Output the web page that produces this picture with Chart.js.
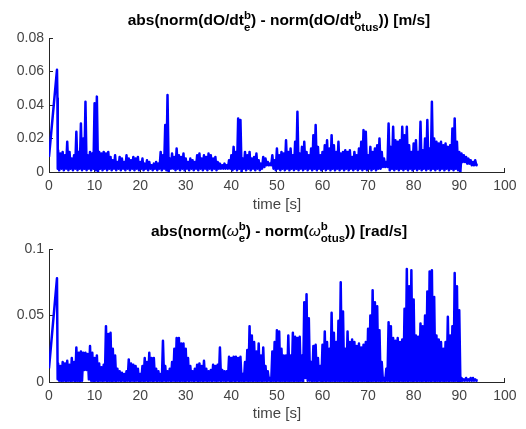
<!DOCTYPE html>
<html><head><meta charset="utf-8">
<script src="https://cdn.jsdelivr.net/npm/chart.js@4/dist/chart.umd.min.js"></script>
<style>
html,body{margin:0;padding:0;background:#fff;}
#wrap{position:relative;width:526px;height:429px;overflow:hidden;font-family:"Liberation Sans",Arial,Helvetica,sans-serif;}
canvas{position:absolute;left:0;}
.ttl{position:absolute;left:49px;width:460px;text-align:center;font-weight:bold;font-size:15.5px;line-height:18px;color:#000;white-space:nowrap;}
.ss{display:inline-block;vertical-align:-6px;font-size:11.5px;line-height:11.5px;text-align:left;}
.ss span{display:block;}
.w{font-weight:normal;font-style:italic;}
</style></head>
<body><div id="wrap">
<canvas id="c1" width="526" height="215" style="top:0"></canvas>
<canvas id="c2" width="526" height="214" style="top:215px"></canvas>
<div class="ttl" style="top:10px">abs(norm(dO/dt<span class="ss"><span>b</span><span>e</span></span>) - norm(dO/dt<span class="ss"><span>b</span><span>otus</span></span>)) [m/s]</div>
<div class="ttl" style="top:221px">abs(norm(<span class="w">ω</span><span class="ss"><span>b</span><span>e</span></span>) - norm(<span class="w">ω</span><span class="ss"><span>b</span><span>otus</span></span>)) [rad/s]</div>
</div>
<script>
// ---- data ----
const xTicks = [0,10,20,30,40,50,60,70,80,90,100];
const topYTicks = [0,0.02,0.04,0.06,0.08];
const botYTicks = [0,0.05,0.1];
const sampleStart = 2.0;   // first sample time of the peaks/troughs arrays [s]
const sampleStep = 0.5;    // sample spacing [s]

// upper plot: |dO/dt| difference [m/s]
const topStartTimes  = [0, 1.75, 1.85, 1.92];
const topStartValues = [0.009, 0.061, 0.044, 0.002];
const topPeaks = [
 0.013,0.011,0.012,0.010,0.018,0.012,0.008,0.010,0.024,0.012,
 0.029,0.020,0.042,0.010,0.012,0.011,0.041,0.045,0.012,0.011,
 0.012,0.011,0.012,0.009,0.007,0.010,0.006,0.009,0.008,0.006,
 0.010,0.008,0.007,0.009,0.008,0.009,0.006,0.008,0.005,0.007,
 0.006,0.004,0.005,0.006,0.005,0.012,0.010,0.028,0.046,0.008,
 0.011,0.009,0.014,0.010,0.009,0.011,0.008,0.006,0.008,0.007,
 0.006,0.010,0.011,0.008,0.010,0.009,0.011,0.010,0.008,0.009,
 0.006,0.005,0.004,0.005,0.004,0.007,0.010,0.015,0.012,0.032,
 0.031,0.008,0.012,0.010,0.012,0.008,0.009,0.011,0.007,0.005,
 0.009,0.008,0.006,0.005,0.010,0.007,0.014,0.010,0.012,0.011,
 0.019,0.012,0.014,0.010,0.018,0.036,0.011,0.015,0.018,0.012,
 0.010,0.014,0.022,0.028,0.015,0.010,0.012,0.016,0.019,0.014,
 0.022,0.016,0.012,0.018,0.011,0.012,0.013,0.012,0.013,0.009,
 0.012,0.010,0.014,0.018,0.025,0.024,0.010,0.015,0.012,0.014,
 0.016,0.020,0.012,0.008,0.006,0.029,0.015,0.027,0.019,0.018,
 0.019,0.027,0.022,0.027,0.016,0.012,0.017,0.019,0.012,0.030,
 0.013,0.020,0.031,0.014,0.042,0.020,0.018,0.017,0.018,0.016,
 0.017,0.015,0.016,0.026,0.032,0.018,0.012,0.011,0.010,0.009,0.008,0.007,0.006,0.007
];
const topTroughs = [
 0.001,0.002,0.001,0.002,0.001,0.002,0.001,0.002,0.001,0.002,
 0.001,0.002,0.001,0.002,0.001,0.002,0.001,0.000,0.002,0.001,
 0.002,0.001,0.002,0.001,0.002,0.001,0.002,0.001,0.002,0.001,
 0.002,0.001,0.002,0.001,0.002,0.001,0.002,0.001,0.002,0.001,
 0.002,0.001,0.002,0.001,0.002,0.001,0.002,0.001,0.000,0.002,
 0.002,0.001,0.002,0.001,0.002,0.001,0.002,0.001,0.002,0.001,
 0.002,0.001,0.002,0.001,0.002,0.001,0.002,0.001,0.002,0.001,
 0.002,0.002,0.002,0.002,0.002,0.002,0.001,0.002,0.001,0.002,
 0.000,0.002,0.001,0.002,0.001,0.002,0.001,0.002,0.001,0.002,
 0.003,0.004,0.004,0.004,0.002,0.001,0.002,0.001,0.002,0.001,
 0.002,0.001,0.002,0.001,0.002,0.001,0.002,0.001,0.002,0.001,
 0.002,0.001,0.002,0.001,0.002,0.001,0.002,0.001,0.002,0.001,
 0.002,0.001,0.002,0.001,0.002,0.001,0.002,0.001,0.002,0.001,
 0.002,0.001,0.002,0.001,0.002,0.001,0.002,0.001,0.002,0.001,
 0.002,0.002,0.003,0.003,0.003,0.001,0.002,0.001,0.002,0.001,
 0.002,0.001,0.002,0.001,0.002,0.001,0.002,0.001,0.002,0.001,
 0.002,0.001,0.002,0.001,0.002,0.001,0.002,0.001,0.002,0.001,
 0.002,0.001,0.002,0.001,0.002,0.001,0.000,0.006,0.006,0.005,0.005,0.004,0.004,0.004
];
const topEndTime = 93.8, topEndValue = 0.005;

// lower plot: |omega| difference [rad/s]
const botStartTimes  = [0, 1.75, 1.9];
const botStartValues = [0.0103, 0.078, 0.002];
const botPeaks = [
 0.014,0.012,0.015,0.014,0.016,0.013,0.018,0.015,0.026,0.022,
 0.023,0.022,0.022,0.021,0.027,0.022,0.018,0.020,0.014,0.011,
 0.013,0.042,0.036,0.037,0.025,0.020,0.010,0.008,0.007,0.006,
 0.008,0.017,0.014,0.013,0.012,0.010,0.006,0.012,0.018,0.015,
 0.022,0.018,0.018,0.010,0.008,0.006,0.031,0.012,0.008,0.010,
 0.015,0.025,0.033,0.033,0.029,0.029,0.025,0.018,0.012,0.008,
 0.010,0.013,0.014,0.012,0.016,0.010,0.008,0.009,0.013,0.012,
 0.013,0.026,0.009,0.008,0.008,0.019,0.018,0.019,0.019,0.018,
 0.019,0.006,0.015,0.024,0.042,0.035,0.030,0.023,0.029,0.020,
 0.026,0.012,0.008,0.003,0.023,0.030,0.039,0.038,0.025,0.020,
 0.020,0.035,0.020,0.037,0.034,0.033,0.034,0.020,0.060,0.066,
 0.048,0.015,0.027,0.028,0.018,0.012,0.028,0.038,0.030,0.025,
 0.052,0.037,0.030,0.046,0.075,0.053,0.025,0.038,0.030,0.032,
 0.030,0.027,0.029,0.026,0.028,0.030,0.040,0.050,0.069,0.060,
 0.057,0.039,0.015,0.003,0.010,0.045,0.042,0.033,0.031,0.033,
 0.030,0.032,0.055,0.085,0.072,0.084,0.062,0.035,0.034,0.044,
 0.042,0.050,0.068,0.083,0.084,0.064,0.035,0.032,0.030,0.025,
 0.030,0.049,0.035,0.042,0.082,0.072,0.054,0.003,0.002,0.003,0.002,0.003,0.003,0.002
];
const botTroughs = [
 0.001,0.000,0.001,0.000,0.001,0.000,0.001,0.000,0.001,0.000,
 0.001,0.009,0.009,0.002,0.001,0.000,0.001,0.000,0.001,0.000,
 0.001,0.000,0.001,0.000,0.001,0.000,0.001,0.000,0.001,0.000,
 0.001,0.000,0.001,0.000,0.001,0.000,0.001,0.000,0.001,0.000,
 0.001,0.000,0.001,0.000,0.001,0.000,0.001,0.000,0.001,0.000,
 0.001,0.000,0.001,0.000,0.001,0.000,0.001,0.000,0.001,0.000,
 0.001,0.000,0.001,0.000,0.001,0.000,0.001,0.000,0.001,0.000,
 0.001,0.000,0.001,0.000,0.001,0.000,0.001,0.000,0.001,0.000,
 0.001,0.000,0.001,0.000,0.001,0.000,0.001,0.000,0.001,0.000,
 0.001,0.000,0.001,0.000,0.001,0.000,0.001,0.000,0.001,0.000,
 0.001,0.000,0.001,0.000,0.001,0.000,0.001,0.000,0.003,0.001,
 0.001,0.000,0.001,0.000,0.001,0.000,0.001,0.000,0.001,0.000,
 0.001,0.000,0.001,0.000,0.001,0.000,0.001,0.000,0.001,0.000,
 0.001,0.000,0.001,0.000,0.001,0.000,0.001,0.000,0.001,0.000,
 0.001,0.000,0.001,0.000,0.001,0.000,0.001,0.000,0.001,0.000,
 0.001,0.000,0.001,0.000,0.001,0.000,0.001,0.000,0.001,0.000,
 0.001,0.000,0.001,0.000,0.001,0.000,0.001,0.000,0.001,0.000,
 0.001,0.000,0.001,0.000,0.001,0.000,0.000,0.001,0.001,0.001,0.001,0.001,0.001,0.001
];
const botEndTime = 93.8, botEndValue = 0.002;

// ---- build ----
function buildSeries(startT, startV, peaks, troughs, endT, endV) {
  const pts = startT.map((t, i) => ({x: t, y: startV[i]}));
  peaks.forEach((p, i) => {
    const t = sampleStart + i * sampleStep;
    pts.push({x: t, y: p});
    pts.push({x: t + sampleStep / 2, y: troughs[i]});
  });
  pts.push({x: endT, y: endV});
  return pts;
}

const FONT = '"Liberation Sans", Arial, Helvetica, sans-serif';
const AXC = '#262626';
const TXC = '#444444';

function makeChart(id, points, yTicks, yMax, padTop, padBottom, xHeight, titlePadBottom) {
  return new Chart(document.getElementById(id), {
    type: 'line',
    data: {datasets: [{data: points, borderColor: '#0000ff', borderWidth: 2.5, pointRadius: 0,
      tension: 0, fill: false, borderJoinStyle: 'round'}]},
    options: {
      responsive: false, animation: false, events: [], parsing: false, normalized: true,
      layout: {padding: {top: padTop, right: 17, left: 0, bottom: padBottom}},
      plugins: {legend: {display: false}, title: {display: false}, tooltip: {enabled: false}},
      scales: {
        x: {
          type: 'linear', min: 0, max: 100,
          afterBuildTicks: s => { s.ticks = xTicks.map(v => ({value: v})); },
          afterFit: s => { s.height = xHeight; },
          ticks: {padding: 9.5, color: TXC, font: {family: FONT, size: 14}, maxRotation: 0, autoSkip: false,
            callback: v => String(v)},
          grid: {drawOnChartArea: false, drawTicks: true, tickLength: -4, color: AXC, lineWidth: 1},
          border: {display: true, color: AXC, width: 1},
          title: {display: true, text: 'time [s]', color: TXC, font: {family: FONT, size: 15},
            padding: {top: 0, bottom: titlePadBottom}}
        },
        y: {
          type: 'linear', min: 0, max: yMax,
          afterBuildTicks: s => { s.ticks = yTicks.map(v => ({value: v})); },
          afterFit: s => { s.width = 49; },
          ticks: {padding: 9, color: TXC, font: {family: FONT, size: 14}, autoSkip: false,
            callback: v => String(v)},
          grid: {drawOnChartArea: false, drawTicks: true, tickLength: -4, color: AXC, lineWidth: 1},
          border: {display: true, color: AXC, width: 1}
        }
      }
    }
  });
}

makeChart('c1', buildSeries(topStartTimes, topStartValues, topPeaks, topTroughs, topEndTime, topEndValue),
  topYTicks, 0.08, 38, 0, 43, 1);
makeChart('c2', buildSeries(botStartTimes, botStartValues, botPeaks, botTroughs, botEndTime, botEndValue),
  botYTicks, 0.1, 34, 5, 42, 1);
</script>
</body></html>
